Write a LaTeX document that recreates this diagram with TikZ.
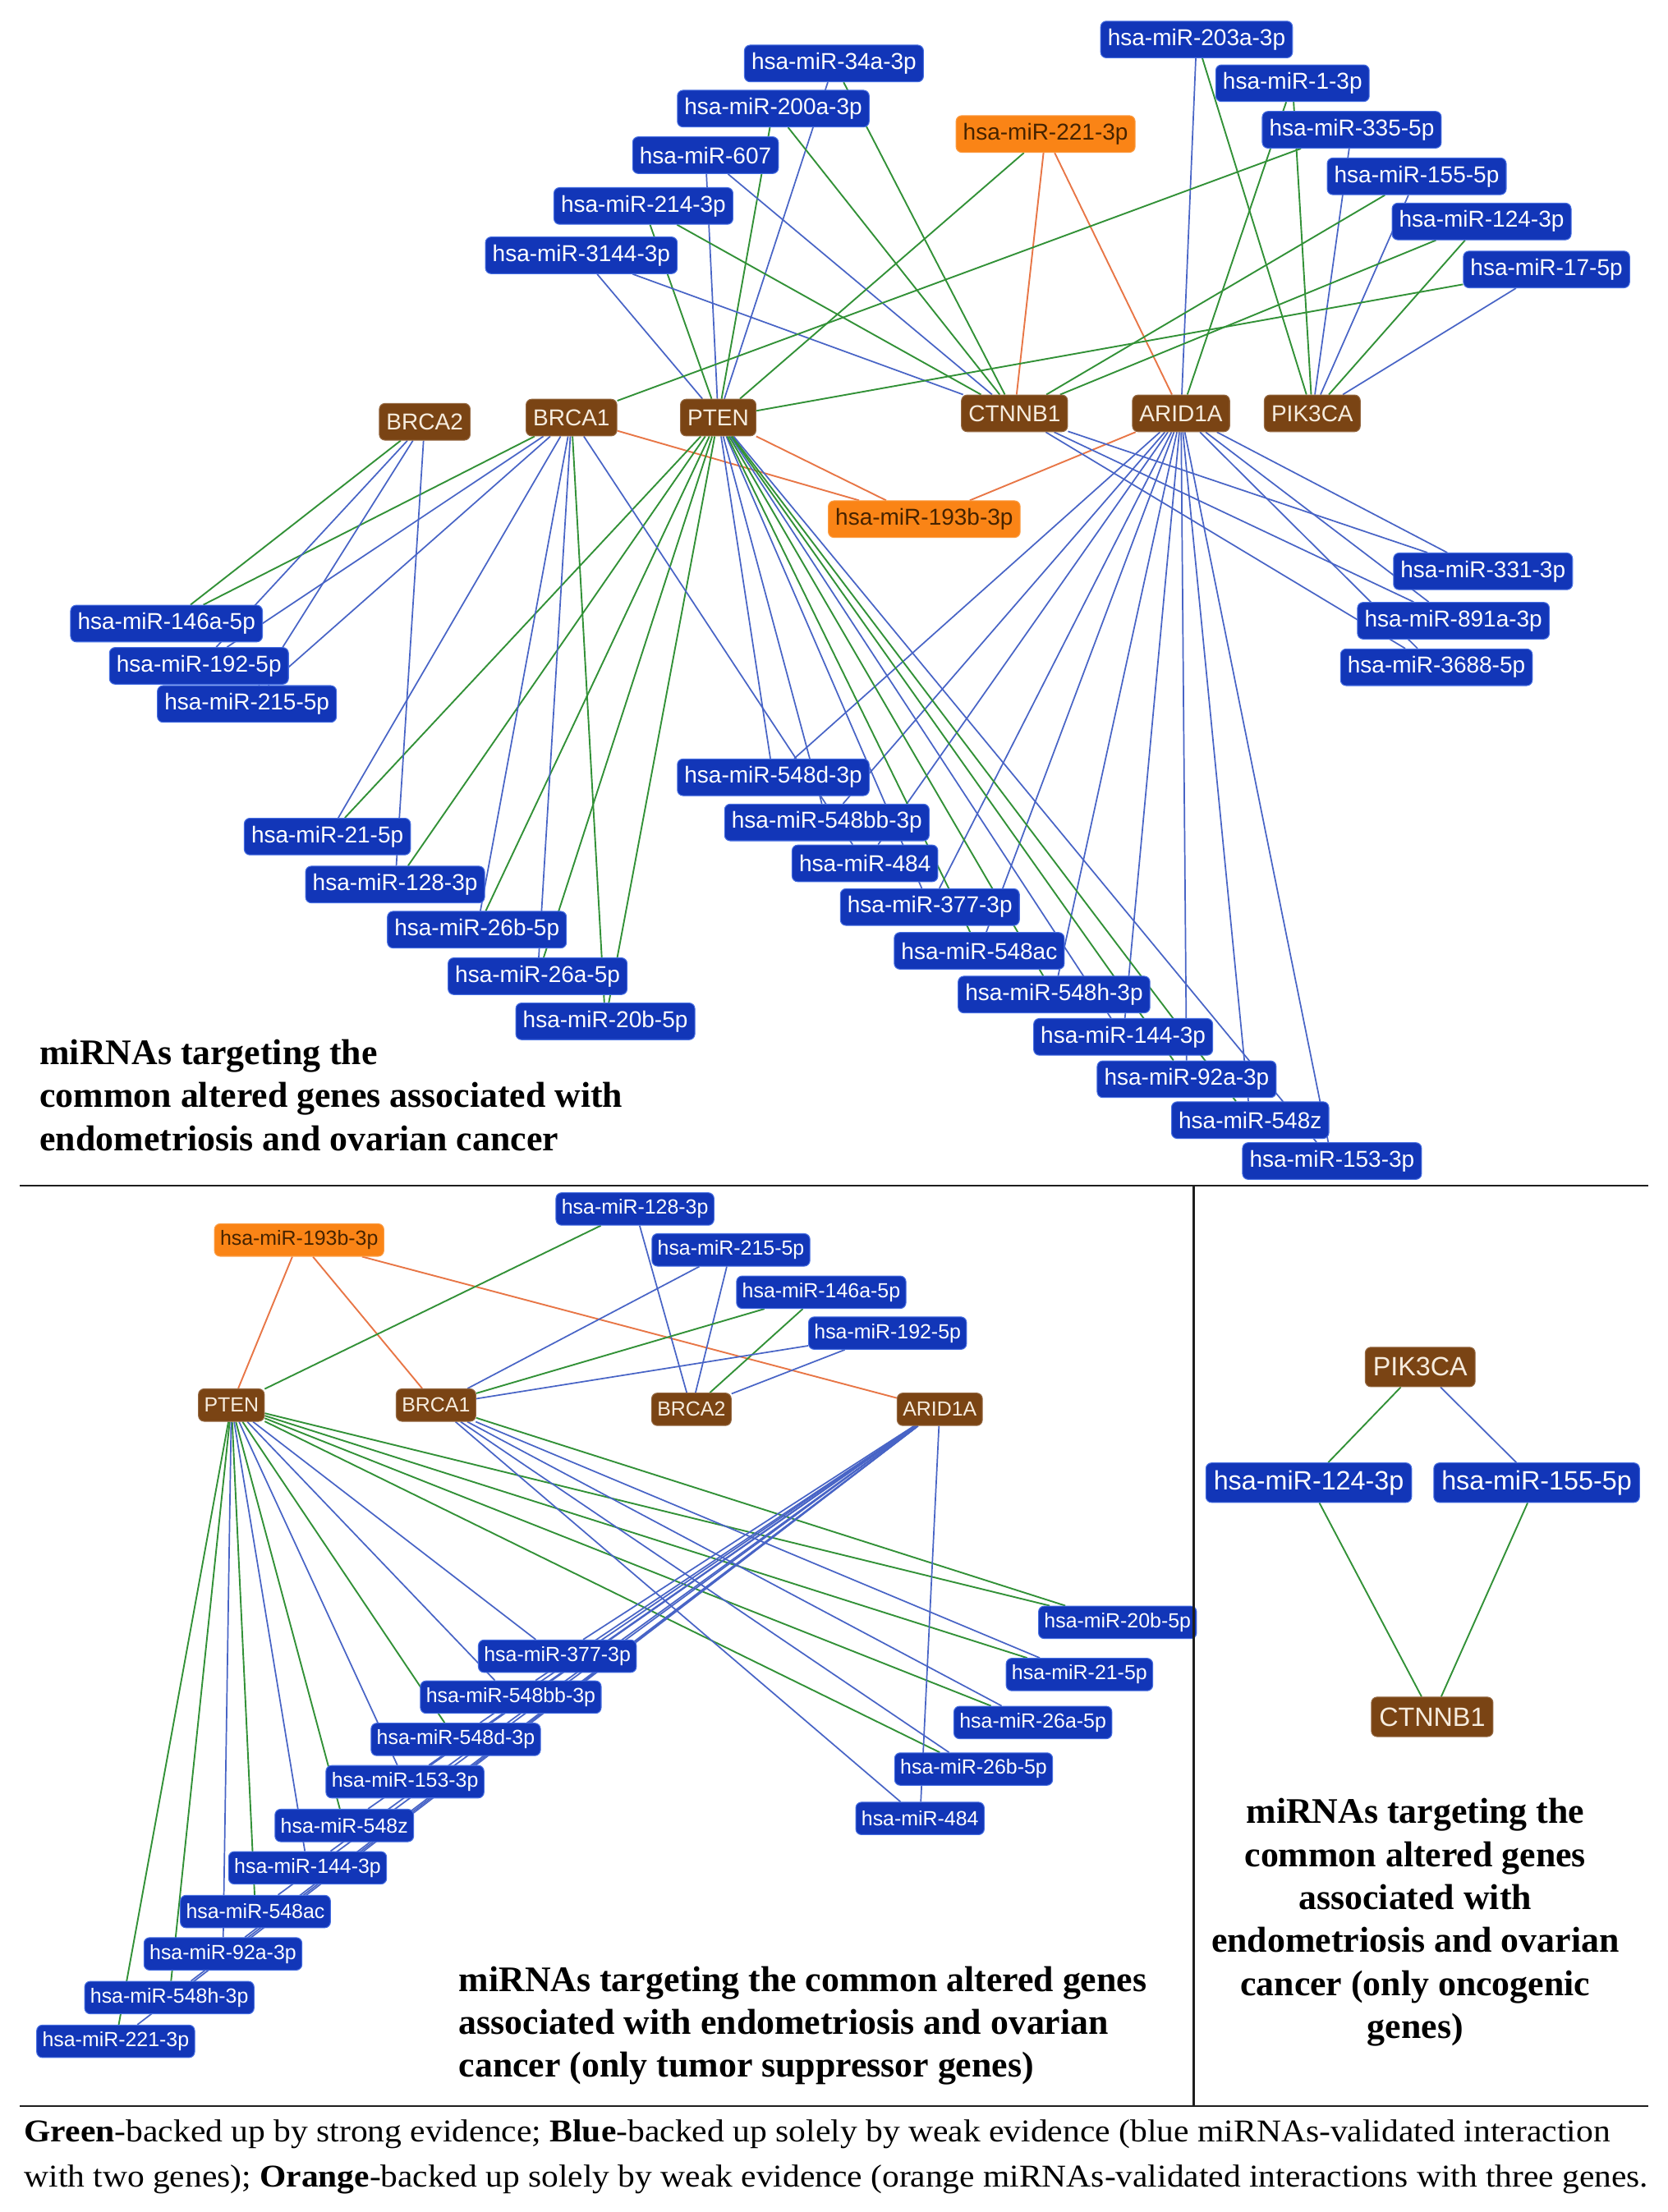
\documentclass[tikz,border=0pt]{standalone}
\usepackage{fontspec}
\usepackage{graphicx}
\setmainfont{Liberation Serif}
\newfontfamily\lsans{Liberation Sans}
\usetikzlibrary{backgrounds}
\definecolor{mirblue}{RGB}{18,54,184}
\definecolor{mirblueedge}{RGB}{70,110,225}
\definecolor{genebrown}{RGB}{122,68,20}
\definecolor{genetext}{RGB}{246,236,222}
\definecolor{mirorange}{RGB}{250,132,22}
\definecolor{orangetext}{RGB}{70,35,0}
\definecolor{edgegreen}{RGB}{50,145,55}
\definecolor{edgeblue}{RGB}{72,100,198}
\definecolor{edgeorange}{RGB}{232,118,70}
\definecolor{framegray}{RGB}{30,30,30}
\newcommand{\fitw}[2]{\resizebox{#1}{\height}{#2}}
\tikzset{
  box/.style={rectangle, rounded corners=4pt, inner ysep=0pt, line width=0.6pt},
  mir/.style={box, fill=mirblue, draw=mirblueedge, text=white, font=\lsans\fontsize{16.3}{19}\selectfont, inner xsep=5pt, minimum height=26pt},
  omir/.style={mir, fill=mirorange, draw=mirorange!80!white, text=orangetext},
  gene/.style={mir, fill=genebrown, draw=genebrown!80!white, text=genetext},
  smir/.style={box, fill=mirblue, draw=mirblueedge, text=white, font=\lsans\fontsize{14.5}{17}\selectfont, inner xsep=4pt, minimum height=23pt},
  somir/.style={smir, fill=mirorange, draw=mirorange!80!white, text=orangetext},
  sgene/.style={smir, fill=genebrown, draw=genebrown!80!white, text=genetext},
  lmir/.style={box, fill=mirblue, draw=mirblueedge, text=white, font=\lsans\fontsize{18.8}{22}\selectfont, inner xsep=5.5pt, minimum height=28pt},
  lgene/.style={lmir, fill=genebrown, draw=genebrown!80!white, text=genetext},
  eg/.style={draw=edgegreen, line width=1.1pt},
  eb/.style={draw=edgeblue, line width=1.0pt},
  eo/.style={draw=edgeorange, line width=1.1pt},
  heading/.style={inner sep=0pt, font=\bfseries\fontsize{25.5}{30.5}\selectfont},
  legendtext/.style={inner sep=0pt, anchor=base west, font=\fontsize{22.5}{31}\selectfont},
  framelines/.style={draw=framegray, line width=1.4pt}
}
\begin{document}
\begin{tikzpicture}[x=1pt,y=-1pt]
\useasboundingbox (0,0) rectangle (1182,1568);
% ---------------- top panel ----------------
\node[mir] (t34a) at (591,45) {hsa-miR-34a-3p};
\node[mir] (t200a) at (548,77) {hsa-miR-200a-3p};
\node[mir] (t607) at (500,110) {hsa-miR-607};
\node[mir] (t214) at (456,146) {hsa-miR-214-3p};
\node[mir] (t3144) at (412,181) {hsa-miR-3144-3p};
\node[omir] (t221) at (741,95) {hsa-miR-221-3p};
\node[mir] (t203a) at (848,28) {hsa-miR-203a-3p};
\node[mir] (t1) at (916,59) {hsa-miR-1-3p};
\node[mir] (t335) at (958,92) {hsa-miR-335-5p};
\node[mir] (t155) at (1004,125) {hsa-miR-155-5p};
\node[mir] (t124) at (1050,157) {hsa-miR-124-3p};
\node[mir] (t17) at (1096,191) {hsa-miR-17-5p};
\node[gene] (tBRCA2) at (301,299) {BRCA2};
\node[gene] (tBRCA1) at (405,296) {BRCA1};
\node[gene] (tPTEN) at (509,296) {PTEN};
\node[gene] (tCTNNB1) at (719,293) {CTNNB1};
\node[gene] (tARID1A) at (837,293) {ARID1A};
\node[gene] (tPIK3CA) at (930,293) {PIK3CA};
\node[omir] (t193b) at (655,368) {hsa-miR-193b-3p};
\node[mir] (t331) at (1051,405) {hsa-miR-331-3p};
\node[mir] (t891a) at (1030,440) {hsa-miR-891a-3p};
\node[mir] (t3688) at (1018,473) {hsa-miR-3688-5p};
\node[mir] (t146a) at (118,442) {hsa-miR-146a-5p};
\node[mir] (t192) at (141,472) {hsa-miR-192-5p};
\node[mir] (t215) at (175,499) {hsa-miR-215-5p};
\node[mir] (t21) at (232,593) {hsa-miR-21-5p};
\node[mir] (t128) at (280,627) {hsa-miR-128-3p};
\node[mir] (t26b) at (338,659) {hsa-miR-26b-5p};
\node[mir] (t26a) at (381,692) {hsa-miR-26a-5p};
\node[mir] (t20b) at (429,724) {hsa-miR-20b-5p};
\node[mir] (t548d) at (548,551) {hsa-miR-548d-3p};
\node[mir] (t548bb) at (586,583) {hsa-miR-548bb-3p};
\node[mir] (t484) at (613,612) {hsa-miR-484};
\node[mir] (t377) at (659,643) {hsa-miR-377-3p};
\node[mir] (t548ac) at (694,674) {hsa-miR-548ac};
\node[mir] (t548h) at (747,705) {hsa-miR-548h-3p};
\node[mir] (t144) at (796,735) {hsa-miR-144-3p};
\node[mir] (t92a) at (841,765) {hsa-miR-92a-3p};
\node[mir] (t548z) at (886,794) {hsa-miR-548z};
\node[mir] (t153) at (944,823) {hsa-miR-153-3p};
\node[heading, anchor=base west] (ttxa) at (28,754.5) {miRNAs targeting the};
\node[heading, anchor=base west] (ttxb) at (28,785) {common altered genes associated with};
\node[heading, anchor=base west] (ttxc) at (28,815.5) {endometriosis and ovarian cancer};
% ---------------- bottom-left panel ----------------
\node[somir] (b193b) at (212,879) {hsa-miR-193b-3p};
\node[smir] (b128) at (450,857) {hsa-miR-128-3p};
\node[smir] (b215) at (518,886) {hsa-miR-215-5p};
\node[smir] (b146a) at (582,916) {hsa-miR-146a-5p};
\node[smir] (b192) at (629,945) {hsa-miR-192-5p};
\node[sgene] (bPTEN) at (164,996) {PTEN};
\node[sgene] (bBRCA1) at (309,996) {BRCA1};
\node[sgene] (bBRCA2) at (490,999) {BRCA2};
\node[sgene] (bARID1A) at (666,999) {ARID1A};
\node[smir] (b20b) at (792,1150) {hsa-miR-20b-5p};
\node[smir] (b21) at (765,1187) {hsa-miR-21-5p};
\node[smir] (b26a) at (732,1221) {hsa-miR-26a-5p};
\node[smir] (b26b) at (690,1254) {hsa-miR-26b-5p};
\node[smir] (b484) at (652,1289) {hsa-miR-484};
\node[smir] (b377) at (395,1174) {hsa-miR-377-3p};
\node[smir] (b548bb) at (362,1203) {hsa-miR-548bb-3p};
\node[smir] (b548d) at (323,1233) {hsa-miR-548d-3p};
\node[smir] (b153) at (287,1263) {hsa-miR-153-3p};
\node[smir] (b548z) at (244,1294) {hsa-miR-548z};
\node[smir] (b144) at (218,1324) {hsa-miR-144-3p};
\node[smir] (b548ac) at (181,1355) {hsa-miR-548ac};
\node[smir] (b92a) at (158,1385) {hsa-miR-92a-3p};
\node[smir] (b548h) at (120,1416) {hsa-miR-548h-3p};
\node[smir] (b221) at (82,1447) {hsa-miR-221-3p};
\node[heading, anchor=base west] (btxa) at (325,1411.5) {miRNAs targeting the common altered genes};
\node[heading, anchor=base west] (btxb) at (325,1442) {associated with endometriosis and ovarian};
\node[heading, anchor=base west] (btxc) at (325,1472.5) {cancer (only tumor suppressor genes)};
% ---------------- bottom-right panel ----------------
\node[lgene] (rPIK3CA) at (1006.5,969) {PIK3CA};
\node[lmir] (r124) at (927.5,1051) {hsa-miR-124-3p};
\node[lmir] (r155) at (1089,1051) {hsa-miR-155-5p};
\node[lgene] (rCTNNB1) at (1015,1217) {CTNNB1};
\node[heading, anchor=base] (rtxa) at (1003,1292.5) {miRNAs targeting the};
\node[heading, anchor=base] (rtxb) at (1003,1323) {common altered genes};
\node[heading, anchor=base] (rtxc) at (1003,1353.5) {associated with};
\node[heading, anchor=base] (rtxd) at (1003,1384) {endometriosis and ovarian};
\node[heading, anchor=base] (rtxe) at (1003,1414.5) {cancer (only oncogenic};
\node[heading, anchor=base] (rtxf) at (1003,1445) {genes)};
% ---------------- legend ----------------
\node[legendtext] (lga) at (17,1518.5) {\fitw{1124pt}{\textbf{Green}-backed up by strong evidence; \textbf{Blue}-backed up solely by weak evidence (blue miRNAs-validated interaction}};
\node[legendtext] (lgb) at (17,1550.5) {\fitw{1151pt}{with two genes); \textbf{Orange}-backed up solely by weak evidence (orange miRNAs-validated interactions with three genes.}};
% ---------------- frame ----------------
\coordinate (fA) at (14,840.5);
\coordinate (fB) at (1168,840.5);
\coordinate (fC) at (846,840.5);
\coordinate (fD) at (846,1493);
\coordinate (fE) at (14,1493);
\coordinate (fF) at (1168,1493);
\draw[framelines] (fA) -- (fB);
\draw[framelines] (fC) -- (fD);
\draw[framelines] (fE) -- (fF);
% ---------------- edges ----------------
\begin{scope}[on background layer]
\fill[white] (0,0) rectangle (1182,1568);
\foreach \a/\b/\c in {
 t34a/tPTEN/eb, t34a/tCTNNB1/eg,
 t200a/tPTEN/eg, t200a/tCTNNB1/eg,
 t607/tPTEN/eb, t607/tCTNNB1/eb,
 t214/tPTEN/eg, t214/tCTNNB1/eg,
 t3144/tPTEN/eb, t3144/tCTNNB1/eb,
 t221/tPTEN/eg, t221/tCTNNB1/eo, t221/tARID1A/eo,
 t203a/tARID1A/eb, t203a/tPIK3CA/eg,
 t1/tARID1A/eg, t1/tPIK3CA/eg,
 t335/tBRCA1/eg, t335/tPIK3CA/eb,
 t155/tCTNNB1/eg, t155/tPIK3CA/eb,
 t124/tCTNNB1/eg, t124/tPIK3CA/eg,
 t17/tPTEN/eg, t17/tPIK3CA/eb,
 t193b/tBRCA1/eo, t193b/tPTEN/eo, t193b/tARID1A/eo,
 t331/tCTNNB1/eb, t331/tARID1A/eb, t891a/tCTNNB1/eb, t891a/tARID1A/eb,
 t3688/tCTNNB1/eb, t3688/tARID1A/eb,
 t146a/tBRCA2/eg, t146a/tBRCA1/eg, t192/tBRCA2/eb, t192/tBRCA1/eb,
 t215/tBRCA2/eb, t215/tBRCA1/eb,
 t21/tPTEN/eg, t21/tBRCA1/eb, t128/tPTEN/eg, t128/tBRCA2/eb,
 t26b/tPTEN/eg, t26b/tBRCA1/eb, t26a/tPTEN/eg, t26a/tBRCA1/eb,
 t20b/tPTEN/eg, t20b/tBRCA1/eg,
 t484/tBRCA1/eb, t484/tARID1A/eb,
 t548d/tPTEN/eb, t548d/tARID1A/eb, t548bb/tPTEN/eb, t548bb/tARID1A/eb,
 t377/tPTEN/eb, t377/tARID1A/eb, t548ac/tPTEN/eg, t548ac/tARID1A/eb,
 t548h/tPTEN/eg, t548h/tARID1A/eb, t144/tPTEN/eb, t144/tARID1A/eb,
 t92a/tPTEN/eg, t92a/tARID1A/eb, t548z/tPTEN/eg, t548z/tARID1A/eb,
 t153/tPTEN/eb, t153/tARID1A/eb,
 b193b/bPTEN/eo, b193b/bBRCA1/eo, b193b/bARID1A/eo,
 b128/bPTEN/eg, b128/bBRCA2/eb,
 b215/bBRCA1/eb, b215/bBRCA2/eb,
 b146a/bBRCA1/eg, b146a/bBRCA2/eg,
 b192/bBRCA1/eb, b192/bBRCA2/eb,
 b20b/bPTEN/eg, b20b/bBRCA1/eg,
 b21/bPTEN/eg, b21/bBRCA1/eb,
 b26a/bPTEN/eg, b26a/bBRCA1/eb,
 b26b/bPTEN/eg, b26b/bBRCA1/eb,
 b484/bBRCA1/eb, b484/bARID1A/eb,
 b377/bPTEN/eb, b377/bARID1A/eb, b548bb/bPTEN/eb, b548bb/bARID1A/eb,
 b548d/bPTEN/eg, b548d/bARID1A/eb, b153/bPTEN/eb, b153/bARID1A/eb,
 b548z/bPTEN/eg, b548z/bARID1A/eb, b144/bPTEN/eb, b144/bARID1A/eb,
 b548ac/bPTEN/eg, b548ac/bARID1A/eb, b92a/bPTEN/eb, b92a/bARID1A/eb,
 b548h/bPTEN/eg, b548h/bARID1A/eb, b221/bPTEN/eg, b221/bARID1A/eb,
 r124/rPIK3CA/eg, r155/rPIK3CA/eb, r124/rCTNNB1/eg, r155/rCTNNB1/eg}
 { \draw[\c] (\a) -- (\b); }
\end{scope}
\end{tikzpicture}
\end{document}
